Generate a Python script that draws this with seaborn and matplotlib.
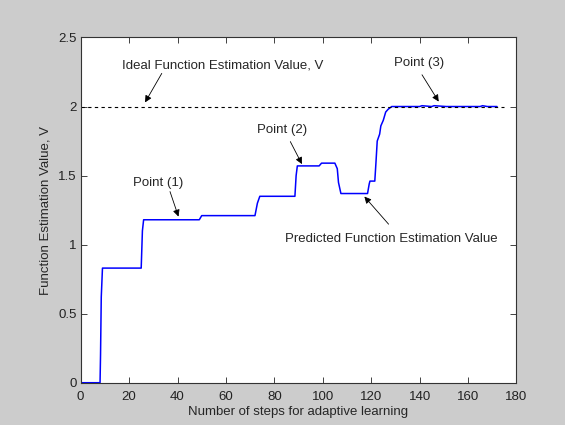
import matplotlib
matplotlib.use("Agg")
import matplotlib.pyplot as plt
import seaborn as sns
import pandas as pd

# Predicted function estimation value (step-like curve)
steps = [0, 8, 8.2, 8.5, 9, 25, 25.5, 26, 49, 50, 72, 73, 74, 88.5, 89, 89.5,
         98.5, 99.5, 105, 106, 106.5, 107.5, 118.5, 119.2, 119.5, 121.5, 122,
         122.5, 123.5, 124, 125, 126, 127, 128.5, 140, 141, 145, 146, 151,
         165, 166, 168, 172]
values = [0, 0, 0.2, 0.62, 0.83, 0.83, 1.1, 1.18, 1.18, 1.21, 1.21, 1.3, 1.35,
          1.35, 1.5, 1.57, 1.57, 1.59, 1.59, 1.55, 1.45, 1.37, 1.37, 1.44,
          1.46, 1.46, 1.6, 1.75, 1.8, 1.86, 1.9, 1.96, 1.98, 2.0, 2.0, 2.006,
          2.0, 2.006, 2.0, 2.0, 2.006, 2.0, 2.0]

ideal_x = [0, 175]
ideal_y = [2.0, 2.0]

x_ticks = [0, 20, 40, 60, 80, 100, 120, 140, 160, 180]
y_ticks = [0, 0.5, 1, 1.5, 2, 2.5]
y_labels = ["0", "0.5", "1", "1.5", "2", "2.5"]

sns.set_style("white")
plt.rcParams["font.family"] = ["Liberation Sans", "DejaVu Sans"]
fs = 9.5

fig = plt.figure(figsize=(5.65, 4.25), dpi=100, facecolor="#cccccc")
ax = fig.add_axes([0.1428, 0.0995, 0.914 - 0.1428, 0.9118 - 0.0995])
ax.set_facecolor("white")

df = pd.DataFrame({"step": steps, "value": values})
sns.lineplot(data=df, x="step", y="value", ax=ax, sort=False, estimator=None,
             color="#0000ff", linewidth=1.1)
ax.plot(ideal_x, ideal_y, color="black", linestyle=(0, (3, 3)), linewidth=0.8)

ax.set_xlim(0, 180)
ax.set_ylim(0, 2.5)
ax.set_xticks(x_ticks)
ax.set_xticklabels([str(t) for t in x_ticks], fontsize=fs)
ax.set_yticks(y_ticks)
ax.set_yticklabels(y_labels, fontsize=fs)
ax.tick_params(direction="in", length=4, width=0.6, top=True, right=True,
               bottom=True, left=True, pad=3, colors="#222222")
ax.tick_params(axis="x", pad=6)
for s in ax.spines.values():
    s.set_color("#333333")
    s.set_linewidth(0.8)

ax.set_xlabel("Number of steps for adaptive learning", fontsize=fs, labelpad=2)
ax.set_ylabel("Function Estimation Value, V", fontsize=fs, labelpad=5)

arrow = dict(arrowstyle="-|>", color="black", lw=0.6, mutation_scale=10,
             shrinkA=0, shrinkB=0)
ax.text(17, 2.30, "Ideal Function Estimation Value, V", fontsize=fs,
        ha="left", va="center")
ax.annotate("", xy=(26.6, 2.03), xytext=(33.5, 2.24), arrowprops=arrow)
ax.text(31.9, 1.445, "Point (1)", fontsize=fs, ha="center", va="center")
ax.annotate("", xy=(40.4, 1.203), xytext=(36.9, 1.384), arrowprops=arrow)
ax.text(83, 1.831, "Point (2)", fontsize=fs, ha="center", va="center")
ax.annotate("", xy=(91.4, 1.583), xytext=(86.6, 1.746), arrowprops=arrow)
ax.text(139.8, 2.317, "Point (3)", fontsize=fs, ha="center", va="center")
ax.annotate("", xy=(147.9, 2.036), xytext=(141, 2.23), arrowprops=arrow)
ax.text(128.2, 1.039, "Predicted Function Estimation Value", fontsize=fs,
        ha="center", va="center")
ax.annotate("", xy=(117.2, 1.348), xytext=(127.2, 1.148), arrowprops=arrow)

fig.savefig("out.png", dpi=100, facecolor=fig.get_facecolor())
